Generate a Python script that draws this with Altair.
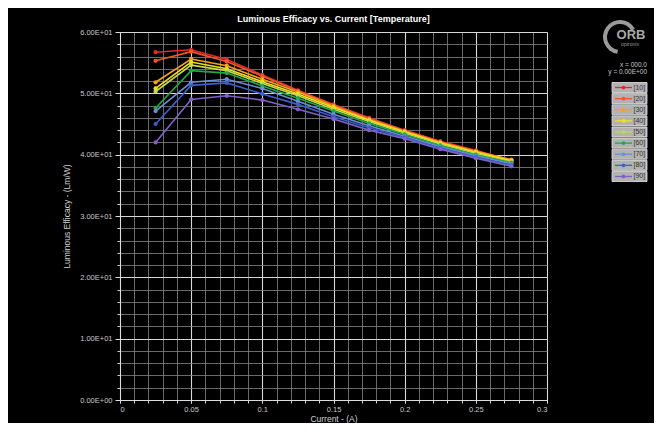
import altair as alt
import pandas as pd

current = [0.025, 0.05, 0.075, 0.1, 0.125, 0.15, 0.175, 0.2, 0.225, 0.25, 0.275]
temps = ["[10]", "[20]", "[30]", "[40]", "[50]", "[60]", "[70]", "[80]", "[90]"]
t10 = [56.7, 57.1, 55.5, 53.0, 50.5, 48.2, 46.0, 44.0, 42.2, 40.7, 39.0]
t20 = [55.3, 56.8, 55.2, 52.8, 50.4, 48.1, 45.9, 43.9, 42.1, 40.6, 39.1]
t30 = [51.8, 55.6, 54.5, 52.3, 50.2, 47.9, 45.7, 43.8, 42.0, 40.5, 39.2]
t40 = [50.8, 55.1, 54.0, 51.9, 49.9, 47.7, 45.6, 43.7, 41.9, 40.4, 39.0]
t50 = [50.3, 54.6, 53.7, 51.6, 49.6, 47.4, 45.4, 43.5, 41.7, 40.2, 38.8]
t60 = [47.6, 53.7, 53.3, 51.2, 49.2, 47.1, 45.1, 43.3, 41.5, 40.0, 38.7]
t70 = [47.1, 51.8, 52.3, 50.8, 48.7, 46.6, 44.7, 43.0, 41.3, 39.8, 38.5]
t80 = [45.0, 51.3, 51.7, 49.9, 48.2, 46.2, 44.4, 42.8, 41.1, 39.6, 38.3]
t90 = [42.0, 49.0, 49.6, 48.9, 47.4, 45.8, 44.0, 42.6, 40.9, 39.4, 38.1]
colors = ["#e8262b", "#f0582a", "#f6a21c", "#f3e21b", "#c3da4e", "#1fa84a",
          "#6a8fd8", "#3a5fcd", "#8060c8"]
x_ticks = [0, 0.05, 0.1, 0.15, 0.2, 0.25, 0.3]
y_ticks = [0, 10, 20, 30, 40, 50, 60]
x_minor = [round(i * 0.01, 2) for i in range(31)]
y_minor = [i * 2 for i in range(31)]
title_text = "Luminous Efficacy vs. Current [Temperature]"

series = [t10, t20, t30, t40, t50, t60, t70, t80, t90]
rows = []
for name, vals in zip(temps, series):
    for c, v in zip(current, vals):
        rows.append({"current": c, "eff": v, "temp": name})
df = pd.DataFrame(rows)
leg_df = pd.DataFrame({"temp": temps})

FONT = "Liberation Sans"
xscale = alt.Scale(domain=[0, 0.3], nice=False)
yscale = alt.Scale(domain=[0, 60], nice=False)
cscale = alt.Scale(domain=temps, range=colors)
leg_y = alt.Y("temp:N", axis=None,
              scale=alt.Scale(type="band", domain=temps, range=[50.5, 149.5],
                              paddingInner=0.1, paddingOuter=0))

minor = alt.Chart(df).mark_point(opacity=0).encode(
    x=alt.X("current:Q", scale=xscale, title=None,
            axis=alt.Axis(values=x_minor, labels=False, orient="bottom", grid=True,
                          gridColor="#858585", gridWidth=0.8, tickColor="#cccccc",
                          tickSize=3, domain=False)),
    y=alt.Y("eff:Q", scale=yscale, title=None,
            axis=alt.Axis(values=y_minor, labels=False, orient="left", grid=True,
                          gridColor="#858585", gridWidth=0.8, tickColor="#cccccc",
                          tickSize=3, domain=False)),
)

lines = alt.Chart(df).mark_line(
    strokeWidth=1.6,
    point=alt.OverlayMarkDef(filled=True, size=18),
).encode(
    x=alt.X("current:Q", scale=xscale, title="Current - (A)",
            axis=alt.Axis(values=x_ticks, format="~g", orient="bottom", grid=True,
                          gridColor="#d8d8d8", gridWidth=1.1, tickColor="#dddddd",
                          tickSize=3, domainColor="#dddddd", labelColor="#c8c8c8",
                          labelFontSize=7.5, labelFont=FONT, labelPadding=2,
                          titleColor="#d0d0d0", titleFont=FONT, titleFontSize=8.5,
                          titleFontWeight="normal", titlePadding=2)),
    y=alt.Y("eff:Q", scale=yscale, title="Luminous Efficacy - (Lm/W)",
            axis=alt.Axis(values=y_ticks, orient="left", grid=True,
                          labelExpr="datum.value == 0 ? '0.00E+00' : format(datum.value / 10, '.2f') + 'E+01'",
                          gridColor="#d8d8d8", gridWidth=1.1, tickColor="#dddddd",
                          tickSize=5, domainColor="#dddddd", labelColor="#c8c8c8",
                          labelFontSize=7.5, labelFont=FONT, labelPadding=3,
                          titleColor="#d0d0d0", titleFont=FONT, titleFontSize=8.5,
                          titleFontWeight="normal", titlePadding=8)),
    color=alt.Color("temp:N", scale=cscale, legend=None),
)

leg_tiles = alt.Chart(leg_df).mark_rect(
    fill="#b2b2b2", stroke="#e6e6e6", strokeWidth=0.8
).encode(x=alt.value(492), x2=alt.value(527), y=leg_y)

leg_lines = alt.Chart(leg_df).mark_rule(strokeWidth=1.3).encode(
    x=alt.value(495), x2=alt.value(512), y=leg_y,
    color=alt.Color("temp:N", scale=cscale, legend=None))

leg_pts = alt.Chart(leg_df).mark_point(filled=True, size=14, opacity=1).encode(
    x=alt.value(503.5), y=leg_y,
    color=alt.Color("temp:N", scale=cscale, legend=None))

leg_text = alt.Chart(leg_df).mark_text(
    color="#333333", font=FONT, fontSize=7, align="left", baseline="middle"
).encode(x=alt.value(513.5), y=leg_y, text="temp:N")

logo_arc = alt.Chart(pd.DataFrame({"k": [0]})).mark_arc(
    color="#9a9a9a", innerRadius=13, outerRadius=17, theta=3.3, theta2=7.35
).encode(x=alt.value(500), y=alt.value(5))

logo_text = alt.Chart(pd.DataFrame({"t": ["ORB"]})).mark_text(
    color="#a8a8a8", font=FONT, fontSize=13, fontWeight="bold", align="center",
    baseline="alphabetic"
).encode(x=alt.value(511), y=alt.value(7), text="t:N")

logo_sub = alt.Chart(pd.DataFrame({"t": ["optronix"]})).mark_text(
    color="#9a9a9a", font=FONT, fontSize=5, align="center", baseline="middle"
).encode(x=alt.value(510), y=alt.value(12), text="t:N")

readout = alt.Chart(pd.DataFrame({"t": ["x = 000.0", "y = 0.00E+00"], "yy": [33, 40]})).mark_text(
    color="#c8c8c8", font=FONT, fontSize=6.5, align="right", baseline="middle"
).encode(x=alt.value(527), y=alt.Y("yy:Q", scale=None), text="t:N")

title = alt.Chart(pd.DataFrame({"t": [title_text]})).mark_text(
    color="#ffffff", font=FONT, fontSize=9, fontWeight="bold", align="center",
    baseline="middle"
).encode(x=alt.value(213.5), y=alt.value(-13), text="t:N")

chart = alt.layer(
    minor, lines, leg_tiles, leg_lines, leg_pts, leg_text,
    logo_arc, logo_text, logo_sub, readout, title
).resolve_scale(y="independent").resolve_axis(
    x="independent", y="independent"
).properties(
    width=427, height=368,
    autosize=alt.AutoSizeParams(type="none"),
    padding={"left": 112, "top": 24, "right": 107, "bottom": 23},
    background="#000000",
).configure_view(stroke=None)

chart.save("out.html", embed_options={"renderer": "svg", "actions": False})
